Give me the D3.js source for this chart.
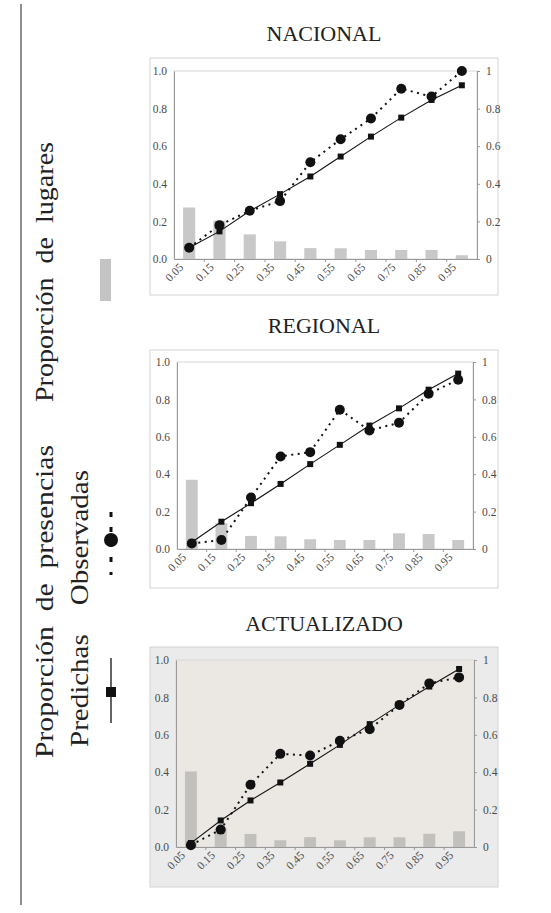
<!DOCTYPE html>
<html>
<head>
<meta charset="utf-8">
<script src="https://cdn.jsdelivr.net/npm/d3@7"></script>
<style>
  body { margin: 0; background: #ffffff; }
  svg { display: block; }
  svg text { font-family: "Liberation Serif", "Times New Roman", serif; }
</style>
</head>
<body>
<div id="scene"></div>
<script>
// bin centres (x axis), shared by the three panels
var bins = ["0.05", "0.15", "0.25", "0.35", "0.45", "0.55", "0.65", "0.75", "0.85", "0.95"];
var leftTicks = [0, 0.2, 0.4, 0.6, 0.8, 1.0];
var rightTicks = [0, 0.2, 0.4, 0.6, 0.8, 1];

var nacPred = [0.06, 0.147, 0.255, 0.345, 0.439, 0.545, 0.651, 0.752, 0.846, 0.924];
var nacObs = [0.06, 0.18, 0.257, 0.308, 0.515, 0.637, 0.747, 0.906, 0.864, 1.0];
var nacBars = [0.274, 0.204, 0.131, 0.094, 0.058, 0.057, 0.048, 0.048, 0.048, 0.02];

var regPred = [0.036, 0.146, 0.245, 0.348, 0.454, 0.557, 0.66, 0.752, 0.852, 0.938];
var regObs = [0.03, 0.048, 0.275, 0.495, 0.518, 0.745, 0.634, 0.675, 0.83, 0.905];
var regBars = [0.37, 0.138, 0.07, 0.068, 0.052, 0.048, 0.048, 0.084, 0.08, 0.048];

var actPred = [0.021, 0.142, 0.249, 0.345, 0.445, 0.546, 0.657, 0.76, 0.858, 0.952];
var actObs = [0.01, 0.093, 0.333, 0.498, 0.489, 0.568, 0.63, 0.76, 0.875, 0.907];
var actBars = [0.404, 0.1, 0.07, 0.036, 0.053, 0.036, 0.052, 0.052, 0.071, 0.084];

var ctx = { w: 551, h: 913 };

var panels = [
  { title: "NACIONAL", pred: nacPred, obs: nacObs, bars: nacBars, titleY: 41,
    frame: [150, 58, 498, 295], plot: [174, 71, 477, 259], shaded: false },
  { title: "REGIONAL", pred: regPred, obs: regObs, bars: regBars, titleY: 333,
    frame: [150, 350, 498, 588], plot: [177, 362, 473, 549], shaded: false },
  { title: "ACTUALIZADO", pred: actPred, obs: actObs, bars: actBars, titleY: 631,
    frame: [150, 647, 498, 887], plot: [176, 660, 474, 847], shaded: true }
];

var svg = d3.select("#scene").append("svg")
  .attr("width", ctx.w)
  .attr("height", ctx.h);

// outer page frame (left edge)
svg.append("line")
  .attr("x1", 21).attr("x2", 21).attr("y1", 4).attr("y2", 905)
  .attr("stroke", "#444").attr("stroke-width", 1.2);

var drawPanel = function (p) {
  var f = p.frame, r = p.plot;
  var g = svg.append("g");

  g.append("rect")
    .attr("x", f[0]).attr("y", f[1])
    .attr("width", f[2] - f[0]).attr("height", f[3] - f[1])
    .attr("fill", p.shaded ? "#ebebeb" : "#ffffff")
    .attr("stroke", "#d4d4d4");

  g.append("rect")
    .attr("x", r[0]).attr("y", r[1])
    .attr("width", r[2] - r[0]).attr("height", r[3] - r[1])
    .attr("fill", p.shaded ? "#ebe8e4" : "#ffffff")
    .attr("stroke", "#d8d8d8");

  g.append("text")
    .attr("x", (f[0] + f[2]) / 2)
    .attr("y", p.titleY)
    .attr("text-anchor", "middle")
    .attr("font-size", 22)
    .attr("fill", "#222")
    .text(p.title);

  var x = d3.scaleBand().domain(bins).range([r[0], r[2]]);
  var y = d3.scaleLinear().domain([0, 1]).range([r[3], r[1]]);

  // bars: proporcion de lugares (right axis, same 0..1 range)
  g.selectAll(".bar")
    .data(p.bars)
    .enter()
    .append("rect")
    .attr("x", function (d, i) { return x(bins[i]) + x.bandwidth() * 0.3; })
    .attr("y", function (d) { return y(d); })
    .attr("width", x.bandwidth() * 0.4)
    .attr("height", function (d) { return y(0) - y(d); })
    .attr("fill", p.shaded ? "#c2c0bd" : "#c8c8c8");

  // left axis
  var yl = g.append("g")
    .attr("transform", "translate(" + r[0] + ",0)")
    .call(d3.axisLeft(y).tickValues(leftTicks).tickFormat(d3.format(".1f")).tickSize(0).tickPadding(7));
  // right axis
  var yr = g.append("g")
    .attr("transform", "translate(" + r[2] + ",0)")
    .call(d3.axisRight(y).tickValues(rightTicks).tickFormat(function (d) { return d === 0 || d === 1 ? String(d) : d3.format(".1f")(d); }).tickSize(3).tickPadding(6));
  // bottom axis, ticks between bins
  var xb = g.append("g")
    .attr("transform", "translate(0," + r[3] + ")")
    .call(d3.axisBottom(x).tickSize(0).tickFormat(""));
  xb.selectAll(".sep")
    .data(bins.slice(1))
    .enter()
    .append("line")
    .attr("x1", function (d) { return x(d); })
    .attr("x2", function (d) { return x(d); })
    .attr("y1", 0).attr("y2", 3)
    .attr("stroke", "#999");

  [yl, yr, xb].forEach(function (a) {
    a.attr("font-family", null);
    a.select(".domain").attr("stroke", "#999");
    a.selectAll(".tick line").attr("stroke", "#999");
    a.selectAll("text")
      .style("font-family", "'Liberation Serif', serif")
      .attr("font-size", 11.5)
      .attr("fill", "#4a4a4a");
  });

  g.selectAll(".xlab")
    .data(bins)
    .enter()
    .append("text")
    .attr("text-anchor", "end")
    .attr("font-size", 11.5)
    .attr("fill", "#4a4a4a")
    .attr("transform", function (d) {
      return "translate(" + (x(d) + x.bandwidth() / 2 - 5) + "," + (r[3] + 9) + ") rotate(-45)";
    })
    .text(function (d) { return d; });

  var cx = function (d, i) { return x(bins[i]) + x.bandwidth() / 2; };

  // predichas: solid line with squares
  g.append("path")
    .datum(p.pred)
    .attr("fill", "none")
    .attr("stroke", "#111")
    .attr("stroke-width", 1.1)
    .attr("d", d3.line().x(cx).y(function (d) { return y(d); }));

  // observadas: dotted line with circles
  g.append("path")
    .datum(p.obs)
    .attr("fill", "none")
    .attr("stroke", "#111")
    .attr("stroke-width", 2)
    .attr("stroke-dasharray", "2,4.5")
    .attr("d", d3.line().x(cx).y(function (d) { return y(d); }));

  g.selectAll(".sq")
    .data(p.pred)
    .enter()
    .append("rect")
    .attr("x", function (d, i) { return cx(d, i) - 3; })
    .attr("y", function (d) { return y(d) - 3; })
    .attr("width", 6).attr("height", 6)
    .attr("fill", "#111");

  g.selectAll(".dot")
    .data(p.obs)
    .enter()
    .append("circle")
    .attr("cx", cx)
    .attr("cy", function (d) { return y(d); })
    .attr("r", 5)
    .attr("fill", "#111");
};

panels.forEach(drawPanel);

/******** LEFT LEGEND ********/
var leg = svg.append("g").attr("fill", "#222");

var vText = function (txt, x, yStart, len) {
  leg.append("text")
    .attr("transform", "translate(" + x + "," + yStart + ") rotate(-90)")
    .attr("font-size", 25)
    .attr("textLength", len)
    .attr("lengthAdjust", "spacingAndGlyphs")
    .style("white-space", "pre")
    .text(txt);
};

vText("Proporción  de  lugares", 53, 402, 260);
vText("Proporción  de  presencias", 53, 758, 313);
vText("Predichas    Observadas", 88, 747, 277);

// bar symbol
leg.append("rect")
  .attr("x", 100).attr("y", 259)
  .attr("width", 11).attr("height", 42)
  .attr("fill", "#c4c4c4");

// observed symbol
leg.append("line")
  .attr("x1", 111).attr("x2", 111).attr("y1", 512).attr("y2", 575)
  .attr("stroke", "#111").attr("stroke-width", 3)
  .attr("stroke-dasharray", "5,10");
leg.append("circle")
  .attr("cx", 111).attr("cy", 540).attr("r", 7)
  .attr("fill", "#111");

// predicted symbol
leg.append("line")
  .attr("x1", 111).attr("x2", 111).attr("y1", 658).attr("y2", 723)
  .attr("stroke", "#111").attr("stroke-width", 1.3);
leg.append("rect")
  .attr("x", 106).attr("y", 687)
  .attr("width", 10).attr("height", 10)
  .attr("fill", "#111");
</script>
</body>
</html>
